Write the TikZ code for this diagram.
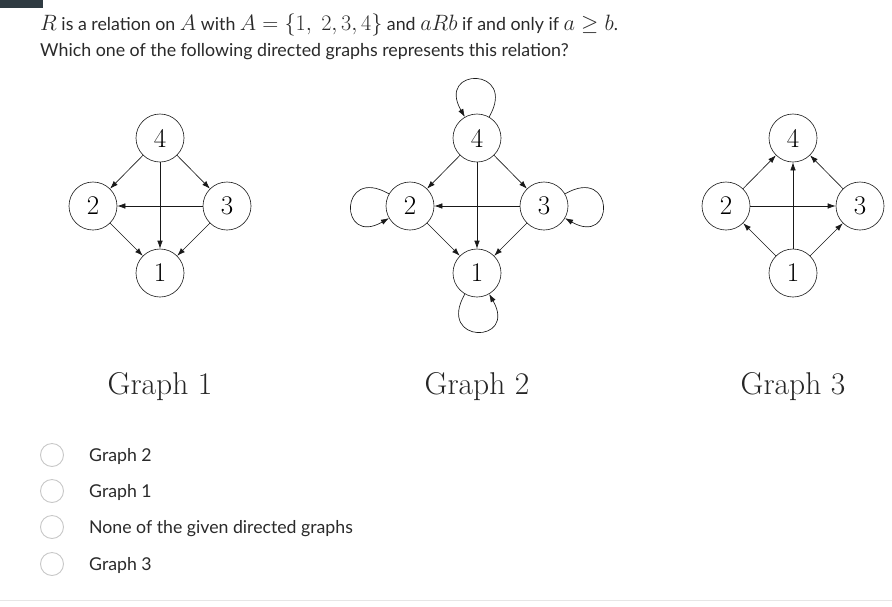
\RequirePackage{fix-cm}
\documentclass[tikz,border=0pt]{standalone}
\usepackage{fontspec}
\newfontfamily\lato{Lato}
\usetikzlibrary{arrows.meta}
\definecolor{txt}{HTML}{2A2A2A}
\definecolor{bar}{HTML}{2F3B42}
\definecolor{radio}{HTML}{C8C8C8}
\definecolor{rule}{HTML}{E6E6E6}
\newcommand{\mth}[1]{{\fontsize{22.2}{24}\selectfont$#1$}}
\tikzset{
  vtx/.style={circle,draw=black!85,line width=0.65pt,minimum size=48pt,inner sep=0pt,font=\fontsize{27}{27}\selectfont},
  arr/.style={-{Latex[length=8pt,width=5.5pt]},line width=0.65pt,black!90},
  glabel/.style={font=\fontsize{31.5}{33}\selectfont,text=black!85},
  hdr/.style={anchor=base west,inner sep=0pt,text=txt,font=\lato\fontsize{17.8}{20}\selectfont},
  opt/.style={anchor=base west,inner sep=0pt,text=txt,font=\lato\fontsize{17.7}{20}\selectfont},
  rad/.style={circle,draw=radio,line width=0.9pt,minimum size=23pt,inner sep=0pt},
}
\begin{document}
\begin{tikzpicture}[x=1pt,y=1pt]
\useasboundingbox (0,0) rectangle (892,-606);
\fill[white] (0,0) rectangle (892,-606);
\fill[bar] (0,0) rectangle (43,-8);
\draw[rule,line width=1pt] (0,-600) -- (892,-600);
% header
\node[hdr] (h1) at (40,-30) {\mth{R} is a relation on \mth{A} with \mth{A=\{1,\ 2,3,4\}} and \mth{aRb} if and only if \mth{a\geq b}.};
\node[hdr] (h2) at (40,-56) {Which one of the following directed graphs represents this relation?};
% Graph 1
\node[vtx] (a4) at (160,-138) {4};
\node[vtx] (a2) at (93,-206) {2};
\node[vtx] (a3) at (227,-206) {3};
\node[vtx] (a1) at (160,-273) {1};
\draw[arr] (a4) -- (a2);
\draw[arr] (a4) -- (a3);
\draw[arr] (a4) -- (a1);
\draw[arr] (a3) -- (a2);
\draw[arr] (a2) -- (a1);
\draw[arr] (a3) -- (a1);
\node[glabel] (g1) at (160,-387) {Graph 1};
% Graph 2
\node[vtx] (b4) at (477,-138) {4};
\node[vtx] (b2) at (410,-206) {2};
\node[vtx] (b3) at (544,-206) {3};
\node[vtx] (b1) at (477,-273) {1};
\draw[arr] (b4) -- (b2);
\draw[arr] (b4) -- (b3);
\draw[arr] (b4) -- (b1);
\draw[arr] (b3) -- (b2);
\draw[arr] (b2) -- (b1);
\draw[arr] (b3) -- (b1);
\draw[arr] (b4) to[out=60,in=120,distance=58pt] (b4);
\draw[arr] (b2) to[out=150,in=210,distance=58pt] (b2);
\draw[arr] (b3) to[out=30,in=-30,distance=58pt] (b3);
\draw[arr] (b1) to[out=240,in=300,distance=58pt] (b1);
\node[glabel] (g2) at (477,-387) {Graph 2};
% Graph 3
\node[vtx] (c4) at (793,-138) {4};
\node[vtx] (c2) at (726,-206) {2};
\node[vtx] (c3) at (860,-206) {3};
\node[vtx] (c1) at (793,-273) {1};
\draw[arr] (c2) -- (c4);
\draw[arr] (c1) -- (c4);
\draw[arr] (c3) -- (c4);
\draw[arr] (c2) -- (c3);
\draw[arr] (c1) -- (c2);
\draw[arr] (c1) -- (c3);
\node[glabel] (g3) at (793,-387) {Graph 3};
% options
\node[rad] (r1) at (52,-455) {};
\node[rad] (r2) at (52,-491) {};
\node[rad] (r3) at (52,-527) {};
\node[rad] (r4) at (52,-564) {};
\node[opt] (o1) at (89,-461) {Graph 2};
\node[opt] (o2) at (89,-497) {Graph 1};
\node[opt] (o3) at (89,-533) {None of the given directed graphs};
\node[opt] (o4) at (89,-570) {Graph 3};
\end{tikzpicture}
\end{document}
